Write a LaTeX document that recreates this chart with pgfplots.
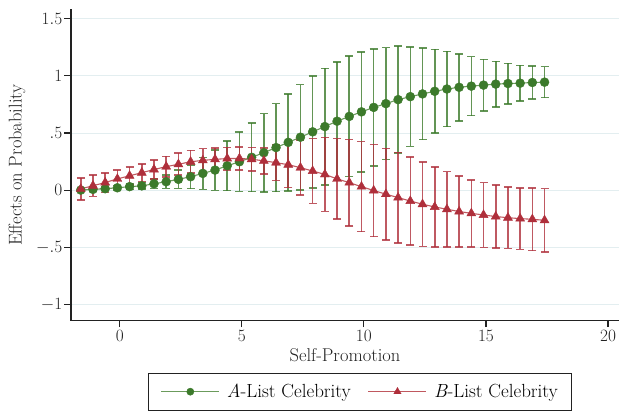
\documentclass[border=0pt]{standalone}
\usepackage{pgfplots}
\pgfplotsset{compat=1.18}
\definecolor{gdark}{HTML}{3C7A2B}
\definecolor{gline}{HTML}{6B9B5C}
\definecolor{rdark}{HTML}{AF2F3B}
\definecolor{rline}{HTML}{C0585F}
\definecolor{gridc}{HTML}{E3EEF0}
\definecolor{axc}{HTML}{222222}

\begin{document}
\begin{tikzpicture}
\begin{axis}[
    scale only axis,
    width=548pt, height=311.4pt,
    xmin=-2, xmax=20.45,
    ymin=-1.144, ymax=1.583,
    axis x line*=bottom, axis y line*=left,
    axis line style={draw=axc, line width=1.1pt},
    tick style={draw=axc, line width=1.1pt},
    tick align=outside,
    major tick length=6.5pt,
    xtick={0,5,10,15,20},
    ytick={-1,-0.5,0,0.5,1,1.5},
    yticklabels={$-1$,$-.5$,$0$,$.5$,$1$,$1.5$},
    ymajorgrids,
    grid style={draw=gridc, line width=0.9pt},
    every tick label/.append style={font=\fontsize{18}{20}\selectfont, text=axc},
    yticklabel style={inner xsep=2pt},
    xticklabel style={inner ysep=3pt},
    label style={font=\fontsize{18.5}{22}\selectfont, text=axc},
    xlabel={Self-Promotion},
    ylabel={Effects on Probability},
    xlabel style={at={(axis description cs:0.5,-0.1326)}, anchor=base},
    ylabel style={at={(axis description cs:-0.0985,0.5)}, anchor=center, rotate=0},
    legend columns=2,
    legend style={at={(axis description cs:0.528,-0.167)}, anchor=north,
        draw=axc, line width=0.9pt, font=\fontsize{19}{22}\selectfont,
        inner xsep=12pt, inner ysep=9pt,
        /tikz/every odd column/.append style={column sep=5pt},
        /tikz/every even column/.append style={column sep=15pt}},
    legend image code/.code={\draw[mark repeat=2,mark phase=2,#1] plot coordinates {(0pt,0pt) (29pt,0pt) (58pt,0pt)};},
    error bars/y dir=both,
    error bars/y explicit,
    error bars/error mark=-,
]
% A-List
\addplot[color=gline, line width=1.1pt, mark=*, mark size=4.5pt,
    mark options={fill=gdark, draw=gdark, line width=0.4pt},
    error bars/error bar style={draw=gdark, opacity=0.8, line width=1.6pt},
    error bars/error mark options={draw=gdark, mark size=4pt, line width=1.6pt, rotate=90},
    legend image post style={mark size=3.6pt}]
coordinates {
(-1.6,0.000) +- (0,0.010)
(-1.1,0.006) +- (0,0.012)
(-0.6,0.012) +- (0,0.015)
(-0.1,0.020) +- (0,0.020)
(0.4,0.030) +- (0,0.025)
(0.9,0.037) +- (0,0.030)
(1.4,0.055) +- (0,0.040)
(1.9,0.073) +- (0,0.058)
(2.4,0.094) +- (0,0.080)
(2.9,0.117) +- (0,0.105)
(3.4,0.146) +- (0,0.140)
(3.9,0.175) +- (0,0.178)
(4.4,0.213) +- (0,0.218)
(4.9,0.248) +- (0,0.260)
(5.4,0.287) +- (0,0.300)
(5.9,0.327) +- (0,0.342)
(6.4,0.372) +- (0,0.385)
(6.9,0.418) +- (0,0.425)
(7.4,0.463) +- (0,0.460)
(7.9,0.510) +- (0,0.490)
(8.4,0.556) +- (0,0.510)
(8.9,0.603) +- (0,0.520)
(9.4,0.645) +- (0,0.527)
(9.9,0.685) +- (0,0.525)
(10.4,0.724) +- (0,0.512)
(10.9,0.757) +- (0,0.490)
(11.4,0.792) +- (0,0.468)
(11.9,0.818) +- (0,0.435)
(12.4,0.842) +- (0,0.400)
(12.9,0.865) +- (0,0.366)
(13.4,0.885) +- (0,0.329)
(13.9,0.900) +- (0,0.293)
(14.4,0.910) +- (0,0.258)
(14.9,0.919) +- (0,0.225)
(15.4,0.928) +- (0,0.199)
(15.9,0.933) +- (0,0.177)
(16.4,0.936) +- (0,0.156)
(16.9,0.942) +- (0,0.143)
(17.4,0.945) +- (0,0.136)
};
\addlegendentry{\textit{A}-List Celebrity}
% B-List
\addplot[color=rline, line width=1.1pt, mark=triangle*, mark size=5.2pt,
    mark options={fill=rdark, draw=rdark, line width=0.4pt},
    error bars/error bar style={draw=rdark, opacity=0.8, line width=1.6pt},
    error bars/error mark options={draw=rdark, mark size=4pt, line width=1.6pt, rotate=90},
    legend image post style={mark size=4.2pt}]
coordinates {
(-1.6,0.010) +- (0,0.098)
(-1.1,0.038) +- (0,0.094)
(-0.6,0.066) +- (0,0.086)
(-0.1,0.098) +- (0,0.080)
(0.4,0.125) +- (0,0.078)
(0.9,0.152) +- (0,0.078)
(1.4,0.180) +- (0,0.082)
(1.9,0.205) +- (0,0.090)
(2.4,0.226) +- (0,0.096)
(2.9,0.248) +- (0,0.100)
(3.4,0.260) +- (0,0.104)
(3.9,0.269) +- (0,0.100)
(4.4,0.276) +- (0,0.098)
(4.9,0.277) +- (0,0.100)
(5.4,0.270) +- (0,0.103)
(5.9,0.256) +- (0,0.115)
(6.4,0.240) +- (0,0.155)
(6.9,0.222) +- (0,0.200)
(7.4,0.196) +- (0,0.240)
(7.9,0.167) +- (0,0.284)
(8.4,0.137) +- (0,0.324)
(8.9,0.098) +- (0,0.352)
(9.4,0.065) +- (0,0.378)
(9.9,0.030) +- (0,0.394)
(10.4,-0.004) +- (0,0.404)
(10.9,-0.036) +- (0,0.401)
(11.4,-0.066) +- (0,0.395)
(11.9,-0.096) +- (0,0.385)
(12.4,-0.124) +- (0,0.370)
(12.9,-0.148) +- (0,0.350)
(13.4,-0.168) +- (0,0.329)
(13.9,-0.188) +- (0,0.310)
(14.4,-0.204) +- (0,0.294)
(14.9,-0.218) +- (0,0.284)
(15.4,-0.232) +- (0,0.274)
(15.9,-0.242) +- (0,0.269)
(16.4,-0.250) +- (0,0.270)
(16.9,-0.256) +- (0,0.274)
(17.4,-0.265) +- (0,0.278)
};
\addlegendentry{\textit{B}-List Celebrity}
\end{axis}
\pgfresetboundingbox
\path[use as bounding box] ([shift={(-71pt,320.7pt)}]current axis.south west) rectangle ([shift={(549pt,-94.3pt)}]current axis.south west);
\end{tikzpicture}
\end{document}
